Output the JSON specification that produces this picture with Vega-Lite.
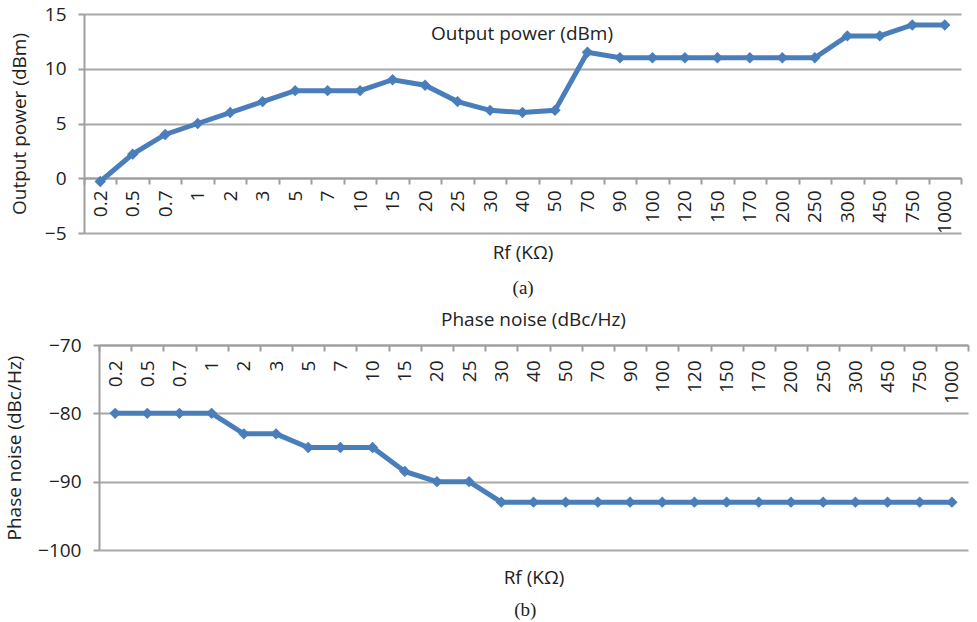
{
  "$schema": "https://vega.github.io/schema/vega-lite/v6.json",
  "background": "white",
  "padding": {"left": 5, "top": 5, "right": 5, "bottom": 0},
  "spacing": 13,
  "config": {
    "view": {"stroke": null},
    "font": "Open Sans",
    "axis": {
      "labelFont": "Open Sans", "titleFont": "Open Sans",
      "labelFontSize": 19, "titleFontSize": 19,
      "labelColor": "#222222", "titleColor": "#222222", "titleFontWeight": "normal",
      "domainColor": "#9e9e9e", "tickColor": "#9e9e9e", "gridColor": "#a8a8a8",
      "domainWidth": 2, "tickWidth": 2, "gridWidth": 2, "gridOpacity": 1
    }
  },
  "vconcat": [
    {
      "title": {"text": "(a)", "orient": "bottom", "font": "Liberation Serif", "fontSize": 19, "fontWeight": "normal", "color": "#222222", "anchor": "middle", "frame": "bounds", "dx": 30, "offset": 17},
      "vconcat": [
        {
          "width": 862, "height": 219,
          "title": {"text": "Output power (dBm)", "orient": "top", "frame": "group", "anchor": "middle", "offset": -39, "dx": -8, "font": "Open Sans", "fontSize": 19, "fontWeight": "normal", "color": "#222222"},
          "data": {"values": [
            {"Rf": "0.2", "P": -0.3}, {"Rf": "0.5", "P": 2.2}, {"Rf": "0.7", "P": 4.0}, {"Rf": "1", "P": 5.0},
            {"Rf": "2", "P": 6.0}, {"Rf": "3", "P": 7.0}, {"Rf": "5", "P": 8.0}, {"Rf": "7", "P": 8.0},
            {"Rf": "10", "P": 8.0}, {"Rf": "15", "P": 9.0}, {"Rf": "20", "P": 8.5}, {"Rf": "25", "P": 7.0},
            {"Rf": "30", "P": 6.2}, {"Rf": "40", "P": 6.0}, {"Rf": "50", "P": 6.2}, {"Rf": "70", "P": 11.5},
            {"Rf": "90", "P": 11.0}, {"Rf": "100", "P": 11.0}, {"Rf": "120", "P": 11.0}, {"Rf": "150", "P": 11.0},
            {"Rf": "170", "P": 11.0}, {"Rf": "200", "P": 11.0}, {"Rf": "250", "P": 11.0}, {"Rf": "300", "P": 13.0},
            {"Rf": "450", "P": 13.0}, {"Rf": "750", "P": 14.0}, {"Rf": "1000", "P": 14.0}
          ]},
          "encoding": {
            "x": {"field": "Rf", "type": "ordinal", "sort": null, "bandPosition": 0.5,
              "scale": {"type": "band", "paddingInner": 0, "paddingOuter": 0, "range": [-15, 862]},
              "axis": {"title": "Rf (KΩ)", "labelAngle": -90, "offset": -55, "tickBand": "extent", "tickSize": 6, "labelPadding": 6, "titleY": 74, "titleBaseline": "middle", "grid": false}},
            "y": {"field": "P", "type": "quantitative", "scale": {"domain": [-5, 15], "nice": false},
              "axis": {"title": "Output power (dBm)", "values": [-5, 0, 5, 10, 15], "offset": 15, "tickSize": 6, "labelPadding": 12, "titlePadding": 15, "grid": true}}
          },
          "mark": {"type": "line", "color": "#4a7ebb", "strokeWidth": 5, "point": {"shape": "diamond", "size": 130, "filled": true, "color": "#4a7ebb"}}
        }
      ]
    },
    {
      "title": {"text": "(b)", "orient": "bottom", "font": "Liberation Serif", "fontSize": 19, "fontWeight": "normal", "color": "#222222", "anchor": "middle", "frame": "bounds", "dx": 38, "offset": 14},
      "vconcat": [
        {
          "width": 869, "height": 205,
          "title": {"text": "Phase noise (dBc/Hz)", "orient": "top", "frame": "group", "anchor": "middle", "offset": 6, "font": "Open Sans", "fontSize": 19, "fontWeight": "normal", "color": "#222222"},
          "data": {"values": [
            {"Rf": "0.2", "N": -80}, {"Rf": "0.5", "N": -80}, {"Rf": "0.7", "N": -80}, {"Rf": "1", "N": -80},
            {"Rf": "2", "N": -83}, {"Rf": "3", "N": -83}, {"Rf": "5", "N": -85}, {"Rf": "7", "N": -85},
            {"Rf": "10", "N": -85}, {"Rf": "15", "N": -88.5}, {"Rf": "20", "N": -90}, {"Rf": "25", "N": -90},
            {"Rf": "30", "N": -93}, {"Rf": "40", "N": -93}, {"Rf": "50", "N": -93}, {"Rf": "70", "N": -93},
            {"Rf": "90", "N": -93}, {"Rf": "100", "N": -93}, {"Rf": "120", "N": -93}, {"Rf": "150", "N": -93},
            {"Rf": "170", "N": -93}, {"Rf": "200", "N": -93}, {"Rf": "250", "N": -93}, {"Rf": "300", "N": -93},
            {"Rf": "450", "N": -93}, {"Rf": "750", "N": -93}, {"Rf": "1000", "N": -93}
          ]},
          "encoding": {
            "x": {"field": "Rf", "type": "ordinal", "sort": null, "bandPosition": 0.5,
              "scale": {"type": "band", "paddingInner": 0, "paddingOuter": 0},
              "axis": {"title": "Rf (KΩ)", "labelAngle": -90, "offset": -205, "tickBand": "extent", "tickSize": 6, "labelPadding": 9, "titleY": 232, "titleBaseline": "middle", "grid": false}},
            "y": {"field": "N", "type": "quantitative", "scale": {"domain": [-100, -70], "nice": false},
              "axis": {"title": "Phase noise (dBc/Hz)", "values": [-100, -90, -80, -70], "tickSize": 6, "labelPadding": 12, "titlePadding": 13, "grid": true}}
          },
          "mark": {"type": "line", "color": "#4a7ebb", "strokeWidth": 5, "point": {"shape": "diamond", "size": 130, "filled": true, "color": "#4a7ebb"}}
        }
      ]
    }
  ]
}
